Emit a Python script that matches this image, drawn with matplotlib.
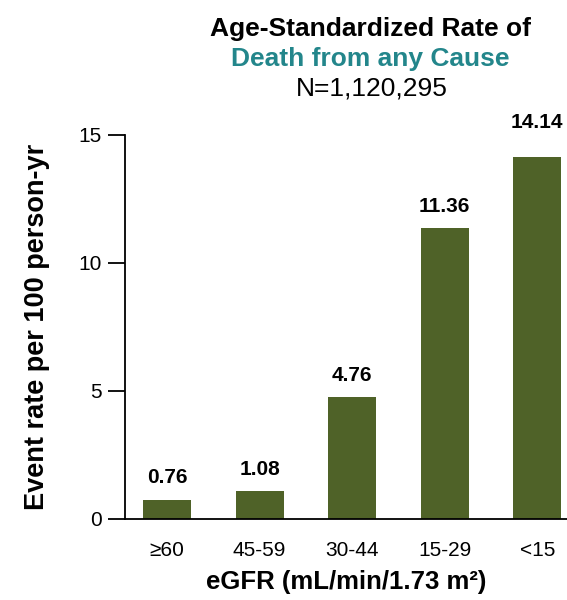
import matplotlib
matplotlib.use("Agg")
import matplotlib.pyplot as plt

plt.rcParams['font.family'] = ['Liberation Sans', 'DejaVu Sans']

categories = ["≥60", "45-59", "30-44", "15-29", "<15"]
rates = [0.76, 1.08, 4.76, 11.36, 14.14]
rate_labels = ["0.76", "1.08", "4.76", "11.36", "14.14"]
yticks = [0, 5, 10, 15]

bar_color = "#4F6228"
teal = "#23868B"
label_offsets = [0.85, 0.85, 0.85, 0.85, 1.35]

fig = plt.figure(figsize=(5.67, 6.0), dpi=100)
ax = fig.add_axes([0.2205, 0.135, 0.7795, 0.64])

x = list(range(len(categories)))
ax.bar(x, rates, width=0.52, color=bar_color, zorder=2)

for xi, v, lab, off in zip(x, rates, rate_labels, label_offsets):
    ax.text(xi, v + off, lab, ha='center', va='center', fontsize=15,
            fontweight='bold', color='black', clip_on=False)

ax.set_xlim(-0.454, 4.32)
ax.set_ylim(0, 15)
ax.set_yticks(yticks)
ax.set_yticklabels([str(t) for t in yticks], fontsize=15)
ax.set_xticks(x)
ax.set_xticklabels(categories, fontsize=15)
ax.tick_params(axis='x', length=0, pad=16)
ax.tick_params(axis='y', length=12, width=1.3, pad=5)

for side in ['top', 'right']:
    ax.spines[side].set_visible(False)
for side in ['left', 'bottom']:
    ax.spines[side].set_linewidth(1.3)

ax.set_ylabel("Event rate per 100 person-yr", fontsize=19.5, fontweight='bold',
              labelpad=20)
ax.set_xlabel("eGFR (mL/min/1.73 m²)", fontsize=18.5, fontweight='bold',
              labelpad=7)

fig.text(0.653, 0.952, "Age-Standardized Rate of", ha='center', va='center',
         fontsize=19, fontweight='bold', color='black')
fig.text(0.653, 0.902, "Death from any Cause", ha='center', va='center',
         fontsize=19, fontweight='bold', color=teal)
fig.text(0.655, 0.852, "N=1,120,295", ha='center', va='center',
         fontsize=19, color='black')

fig.savefig("out.png", dpi=100)
